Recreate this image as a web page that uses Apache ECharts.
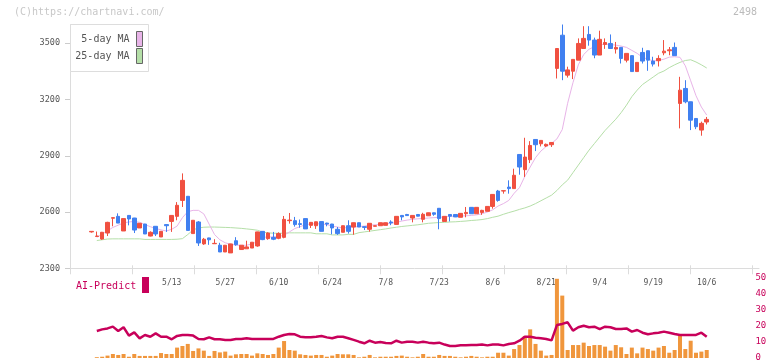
<!DOCTYPE html>
<html><head><meta charset="utf-8">
<script src="https://cdn.jsdelivr.net/npm/echarts@6/dist/echarts.min.js"></script>
<style>html,body{margin:0;padding:0;background:#fff}#c{width:772px;height:361px}</style>
</head><body><div id="c"></div>
<script>
// ---- data ----
const dates = ["4/17","4/18","4/21","4/22","4/23","4/24","4/25","4/28","4/30",
"5/1","5/2","5/7","5/8","5/9","5/12","5/13","5/14","5/15","5/16","5/19","5/20","5/21","5/22","5/23","5/26","5/27","5/28","5/29","5/30",
"6/2","6/3","6/4","6/5","6/6","6/9","6/10","6/11","6/12","6/13","6/16","6/17","6/18","6/19","6/20","6/23","6/24","6/25","6/26","6/27","6/30",
"7/1","7/2","7/3","7/4","7/7","7/8","7/9","7/10","7/11","7/14","7/15","7/16","7/17","7/18","7/22","7/23","7/24","7/25","7/28","7/29","7/30","7/31",
"8/1","8/4","8/5","8/6","8/7","8/8","8/12","8/13","8/14","8/15","8/18","8/19","8/20","8/21","8/22","8/25","8/26","8/27","8/28","8/29",
"9/1","9/2","9/3","9/4","9/5","9/8","9/9","9/10","9/11","9/12","9/16","9/17","9/18","9/19","9/22","9/24","9/25","9/26","9/29","9/30",
"10/1","10/2","10/3","10/6"];

const opens = [2494,2470,2456,2488,2567,2577,2499,2582,2568,2515,2536,2472,2524,2467,2533,2550,2577,2662,2684,2485,2547,2430,2462,2431,2423,2387,2382,2447,2400,2404,2408,2419,
2497,2458,2465,2460,2465,2554,2554,2538,2565,2529,2527,2549,2541,2536,2508,2492,2527,2520,2543,2522,2508,2524,2527,2529,2547,2534,2582,2587,2568,2587,2561,2580,2596,2620,2550,2587,2587,2572,2591,2625,2591,2598,2604,2630,2712,2712,2733,2725,2907,2826,2879,2987,2964,2952,2959,
3366,3543,3330,3351,3410,3472,3547,3517,3437,3494,3499,3469,3478,3410,3434,3349,3451,3460,3405,3407,3449,3460,3478,3179,3259,3188,3099,3037,3080];
const closes = [2497,2472,2492,2545,2570,2541,2565,2563,2504,2540,2483,2492,2483,2497,2527,2582,2636,2769,2502,2556,2435,2455,2452,2433,2387,2423,2430,2426,2423,2414,2439,2494,
2453,2488,2455,2485,2561,2557,2533,2534,2510,2545,2548,2497,2536,2515,2485,2527,2497,2543,2520,2518,2540,2527,2543,2543,2542,2577,2574,2581,2582,2578,2588,2596,2588,2565,2577,2578,2574,2593,2598,2591,2625,2609,2630,2694,2662,2714,2725,2796,2840,2893,2955,2959,2982,2961,2971,
3472,3351,3358,3414,3499,3526,3517,3437,3521,3504,3472,3478,3419,3446,3349,3398,3405,3410,3389,3419,3458,3465,3434,3250,3188,3090,3055,3073,3094];
const lows = [2490,2470,2452,2472,2524,2541,2499,2529,2488,2515,2483,2470,2472,2467,2494,2494,2556,2627,2502,2485,2419,2425,2425,2431,2387,2387,2382,2420,2400,2404,2408,2415,
2450,2452,2450,2455,2460,2538,2522,2516,2510,2515,2510,2497,2524,2481,2478,2492,2485,2479,2520,2504,2495,2523,2527,2529,2530,2534,2556,2580,2545,2577,2545,2580,2580,2508,2550,2550,2573,2572,2572,2591,2591,2585,2604,2618,2655,2698,2698,2725,2799,2787,2861,2925,2950,2947,2947,
3312,3303,3317,3309,3410,3472,3487,3420,3437,3470,3472,3445,3392,3398,3349,3349,3392,3353,3376,3376,3436,3436,3434,3046,3180,3037,3042,3007,3067];
const highs = [2497,2496,2494,2548,2571,2593,2566,2583,2569,2541,2537,2497,2525,2498,2534,2583,2653,2806,2685,2557,2552,2462,2463,2455,2436,2424,2431,2466,2424,2447,2440,2495,
2498,2492,2494,2492,2579,2595,2574,2560,2566,2546,2549,2550,2543,2537,2520,2528,2556,2544,2544,2523,2541,2528,2544,2544,2556,2578,2583,2590,2583,2588,2596,2597,2597,2621,2578,2588,2588,2594,2627,2626,2626,2612,2631,2695,2718,2715,2769,2831,2908,2996,2978,2988,2983,2965,2972,
3473,3600,3375,3415,3526,3591,3591,3530,3567,3526,3547,3507,3479,3447,3435,3399,3476,3461,3428,3436,3517,3480,3504,3321,3303,3189,3100,3082,3107];

const ma5 = [null,2465,2482,2500,2518,2530,2542,2547,2550,2545,2533,2522,2512,2505,2499,2508,2525,2570,2602,2609,2609,2590,2535,2480,2452,2436,2428,2424,2422,2423,2430,2442,
2465,2467,2467,2470,2476,2494,2512,2522,2533,2536,2538,2536,2533,2525,2520,2515,2518,2520,2523,2525,2530,2532,2534,2537,2540,2545,2552,2557,2561,2564,2566,2568,2570,2572,2574,2577,2578,2579,2580,2582,2585,2591,2600,2612,2632,2645,2662,2700,2730,2790,2840,2890,2925,2950,2966,
2990,3040,3180,3290,3385,3440,3468,3482,3492,3495,3493,3490,3485,3478,3462,3446,3425,3415,3406,3408,3415,3426,3428,3425,3380,3300,3220,3160,3117];
const ma25 = [null,2448,2452,2456,2457,2457,2457,2457,2457,2457,2454,2454,2454,2454,2454,2454,2455,2458,2480,2505,2515,2519,2520,2520,2519,2518,2517,2515,2513,2510,2507,2503,
2493,2489,2487,2487,2487,2489,2489,2489,2489,2489,2484,2484,2484,2478,2478,2478,2481,2481,2490,2494,2498,2502,2506,2510,2515,2519,2523,2526,2529,2532,2536,2540,2542,2544,2545,2547,2548,2550,2552,2555,2557,2560,2565,2572,2578,2588,2597,2605,2614,2622,2632,2645,2660,2675,2690,
2715,2745,2770,2810,2850,2890,2930,2965,3000,3035,3065,3095,3130,3170,3215,3250,3280,3300,3320,3340,3352,3370,3385,3398,3408,3412,3400,3385,3368];

const volume = [0,0.5,0.8,1.5,2.5,1.9,2.5,0.8,2.5,1.3,1.3,1.3,1.3,3.1,2.5,2.5,6.5,7.5,8.8,4.4,6,4.6,1.3,4.4,3.5,4,1.5,2.3,2.5,2.5,1.5,2.9,
2.5,1.9,2.5,6.5,10.6,5,4.6,2.3,1.9,1.5,1.9,1.9,0.8,1.5,2.5,2.3,2.3,1.9,0.4,0.8,1.9,0.4,0.8,0.8,0.8,1.3,1.5,0.8,0.4,0.8,2.5,0.8,0.8,1.9,1.3,1.3,0.8,0.4,0.8,1.3,0.8,0.4,0.8,0.8,3.3,3.3,1.5,5.6,8.1,13.8,17.9,8.8,4.6,1.5,1.9,
49.5,39,5,8.1,8.1,9.6,7.5,8.1,8.1,7.1,4.6,8.1,6.7,2.5,6.5,2.9,6.5,5.6,4.6,6.5,7.5,3.3,5,13.8,5.6,10.8,3.3,4,5];
const aiPredict = [null,16.9,17.9,18.5,19.6,16.9,19.2,14,16,12.3,14.4,13.3,15.4,13.3,13.3,11.7,13.8,14.4,14.4,14,11.9,11.7,12.9,11.7,11.7,11.3,11.3,11.9,11.9,12.3,11.9,11.9,
11.9,11.9,11.9,13.3,14.4,15,14.8,13.3,12.9,12.9,13.3,13.8,12.9,12.3,13.3,13.3,12.3,11.3,10.2,9.2,10.8,9.6,10,9.4,9.2,10.8,9.6,10.2,10.2,9.6,10.2,9.6,9.2,9.6,8.4,7.5,7.5,7.9,7.9,8.1,8.1,8.5,7.9,8.5,8.5,7.9,8.8,9.2,10.8,13.3,13.3,12.7,12.3,11.9,11,
20.6,21.3,22.3,17.1,19.2,20.2,19.2,19.6,18.1,19.6,19.2,18.1,18.1,18.5,16.5,17.5,15.8,14.8,15.4,15.8,16.5,15.8,15,14.4,14.4,14.4,14.4,15.8,13.3];

const priceTicks = [2300,2600,2900,3200,3500];
const subTicks = [0,10,20,30,40,50];

// ---- chart ----
const UP = '#f05040', DOWN = '#4080f0', CRIMSON = '#c8005a';
const MONO = '"DejaVu Sans Mono", "Liberation Mono", monospace';
const candleData = opens.map((o, i) => [o, closes[i], lows[i], highs[i]]);
const frameTicks = Array.from({length: 12}, (_, k) => k * 62);

const chart = echarts.init(document.getElementById('c'), null, {renderer: 'canvas'});
chart.setOption({
  animation: false,
  backgroundColor: '#fff',
  grid: [
    {left: 70, top: 24.5, width: 689, height: 243.8, outerBoundsMode: 'none', containLabel: false},
    {left: 88.8, top: 24.5, width: 620.6, height: 243.8, outerBoundsMode: 'none', containLabel: false},
    {left: 88.8, top: 278, width: 620.6, height: 80, outerBoundsMode: 'none', containLabel: false}
  ],
  xAxis: [
    {gridIndex: 0, type: 'value', position: 'bottom', min: 0, max: 689, interval: 62,
     axisLine: {show: true, lineStyle: {color: '#dcdcdc', width: 1}},
     axisTick: {show: true, length: 6, customValues: frameTicks, lineStyle: {color: '#dcdcdc'}},
     axisLabel: {show: false}, splitLine: {show: false}},
    {gridIndex: 0, type: 'value', position: 'bottom', min: 0, max: 689, interval: 62,
     axisLine: {show: false},
     axisTick: {show: true, inside: true, length: 3, customValues: frameTicks, lineStyle: {color: '#dcdcdc'}},
     axisLabel: {show: false}, splitLine: {show: false}},
    {gridIndex: 1, type: 'category', position: 'bottom', data: dates, boundaryGap: true,
     axisLine: {show: false}, axisTick: {show: false}, splitLine: {show: false},
     axisLabel: {show: true, interval: (idx) => idx >= 15 && (idx - 15) % 10 === 0,
       color: '#555', fontFamily: MONO, fontSize: 8, margin: 10.5}},
    {gridIndex: 2, type: 'category', position: 'bottom', data: dates, boundaryGap: true, show: false}
  ],
  yAxis: [
    {gridIndex: 0, type: 'value', min: 2300, max: 3600, interval: 300,
     axisLine: {show: true, lineStyle: {color: '#dcdcdc'}},
     axisTick: {show: true, length: 5, customValues: priceTicks, lineStyle: {color: '#cccccc'}},
     axisLabel: {show: true, customValues: priceTicks, formatter: (v) => String(v),
       color: '#555', fontFamily: MONO, fontSize: 8.5, margin: 10},
     splitLine: {show: false}},
    {gridIndex: 1, type: 'value', min: 2300, max: 3600, show: false, splitLine: {show: false}},
    {gridIndex: 2, type: 'value', position: 'right', min: 0, max: 50, interval: 10,
     axisLine: {show: false}, axisTick: {show: false}, splitLine: {show: false},
     axisLabel: {show: true, customValues: subTicks, formatter: (v) => String(v),
       color: CRIMSON, fontFamily: MONO, fontSize: 9, margin: 46, align: 'left'}}
  ],
  series: [
    {name: '25-day MA', type: 'line', xAxisIndex: 2, yAxisIndex: 1, data: ma25,
     showSymbol: false, symbol: 'none', lineStyle: {color: '#b5dfa8', width: 1}, z: 2, silent: true},
    {name: '5-day MA', type: 'line', xAxisIndex: 2, yAxisIndex: 1, data: ma5,
     showSymbol: false, symbol: 'none', lineStyle: {color: '#e8b4e8', width: 1}, z: 2, silent: true},
    {name: 'Price', type: 'candlestick', xAxisIndex: 2, yAxisIndex: 1, data: candleData,
     barWidth: 4, z: 3,
     itemStyle: {color: UP, color0: DOWN, borderColor: UP, borderColor0: DOWN, borderWidth: 1}},
    {name: 'Volume', type: 'bar', xAxisIndex: 3, yAxisIndex: 2, data: volume,
     barWidth: 4, itemStyle: {color: '#f0963c'}, z: 2},
    {name: 'AI-Predict', type: 'line', xAxisIndex: 3, yAxisIndex: 2, data: aiPredict,
     showSymbol: false, symbol: 'none', lineStyle: {color: CRIMSON, width: 2.5}, z: 3}
  ],
  graphic: [
    {type: 'text', x: 14, y: 12.5, style: {text: '(C)https://chartnavi.com/', fill: '#c8c8c8', font: '10px ' + MONO, textAlign: 'left', textVerticalAlign: 'middle'}},
    {type: 'text', x: 757, y: 12.5, style: {text: '2498', fill: '#bbbbbb', font: '10px ' + MONO, textAlign: 'right', textVerticalAlign: 'middle'}},
    {type: 'rect', z: 10, shape: {x: 70.5, y: 24.5, width: 78, height: 47}, style: {fill: '#fff', stroke: '#dddddd', lineWidth: 1}},
    {type: 'text', z: 11, x: 129.5, y: 39, style: {text: '5-day MA', fill: '#555', font: '10px ' + MONO, textAlign: 'right', textVerticalAlign: 'middle'}},
    {type: 'text', z: 11, x: 129.5, y: 56, style: {text: '25-day MA', fill: '#555', font: '10px ' + MONO, textAlign: 'right', textVerticalAlign: 'middle'}},
    {type: 'rect', z: 11, shape: {x: 136.5, y: 31.5, width: 6, height: 15}, style: {fill: '#e8b4e8', stroke: '#666', lineWidth: 1}},
    {type: 'rect', z: 11, shape: {x: 136.5, y: 48.5, width: 6, height: 15}, style: {fill: '#b5dfa8', stroke: '#666', lineWidth: 1}},
    {type: 'text', x: 76, y: 286, style: {text: 'AI-Predict', fill: CRIMSON, font: '10px ' + MONO, textAlign: 'left', textVerticalAlign: 'middle'}},
    {type: 'rect', shape: {x: 142, y: 277, width: 7, height: 16}, style: {fill: CRIMSON}}
  ]
});
</script>
</body></html>
